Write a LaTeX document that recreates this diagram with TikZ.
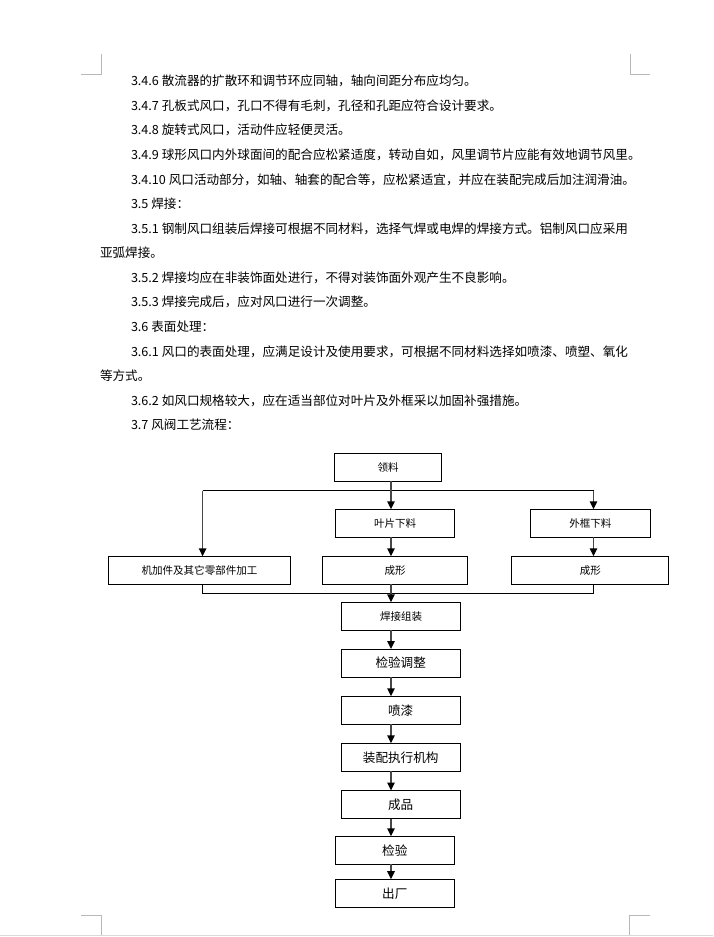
\documentclass[tikz,border=0pt]{standalone}
\usepackage{fontspec}
\setmainfont{Noto Sans CJK SC}
\usetikzlibrary{arrows.meta}
\begin{document}
\begin{tikzpicture}[x=0.75pt,y=-0.75pt,
  txt/.style={anchor=west, inner sep=0, outer sep=0, font=\fontsize{9.45pt}{11pt}\selectfont, text height=8.3pt, text depth=1.1pt},
  box/.style={draw=black, line width=0.75pt, inner sep=0, outer sep=0, minimum height=21pt, fill=white},
  sm/.style={font=\fontsize{7.9pt}{9pt}\selectfont},
  lg/.style={font=\fontsize{9.45pt}{11pt}\selectfont},
  conn/.style={draw=black!72, line width=1.1pt},
  arr/.style={conn, -{Triangle[width=5.6pt,length=6pt,color=black]}},
  plainline/.style={draw=black, line width=0.75pt},
  cornermark/.style={draw=black!28, line width=0.75pt}]
\useasboundingbox[fill=white] (0,0) rectangle (713,937);
% page corner marks and page edge
\draw[cornermark] (81,75) -- (101,75) -- (101,54);
\draw[cornermark] (650,75) -- (630,75) -- (630,54);
\draw[cornermark] (81,915) -- (101,915) -- (101,935);
\draw[cornermark] (650,915) -- (629,915) -- (629,935);
\draw[draw=black!15, line width=1pt] (0,935.5) -- (713,935.5);
% body text
\node[txt] (t1) at (131,81.0) {3.4.6 散流器的扩散环和调节环应同轴，轴向间距分布应均匀。};
\node[txt] (t2) at (131,105.6) {3.4.7 孔板式风口，孔口不得有毛刺，孔径和孔距应符合设计要求。};
\node[txt] (t3) at (131,130.1) {3.4.8 旋转式风口，活动件应轻便灵活。};
\node[txt] (t4) at (131,154.7) {3.4.9 球形风口内外球面间的配合应松紧适度，转动自如，风里调节片应能有效地调节风里。};
\node[txt] (t5) at (131,179.3) {3.4.10 风口活动部分，如轴、轴套的配合等，应松紧适宜，并应在装配完成后加注润滑油。};
\node[txt] (t6) at (131,203.9) {3.5 焊接：};
\node[txt] (t7) at (131,228.4) {3.5.1 钢制风口组装后焊接可根据不同材料，选择气焊或电焊的焊接方式。铝制风口应采用};
\node[txt] (t8) at (100,253.0) {亚弧焊接。};
\node[txt] (t9) at (131,277.6) {3.5.2 焊接均应在非装饰面处进行，不得对装饰面外观产生不良影响。};
\node[txt] (t10) at (131,302.1) {3.5.3 焊接完成后，应对风口进行一次调整。};
\node[txt] (t11) at (131,326.7) {3.6 表面处理：};
\node[txt] (t12) at (131,351.3) {3.6.1 风口的表面处理，应满足设计及使用要求，可根据不同材料选择如喷漆、喷塑、氧化};
\node[txt] (t13) at (100,375.8) {等方式。};
\node[txt] (t14) at (131,400.4) {3.6.2 如风口规格较大，应在适当部位对叶片及外框采以加固补强措施。};
\node[txt] (t15) at (131,425.0) {3.7 风阀工艺流程：};
% flowchart boxes
\node[box,sm,minimum width=80.6pt]  (ll)  at (388.2,467.3) {领料};
\node[box,sm,minimum width=89.4pt]  (yp)  at (395.2,523.3) {叶片下料};
\node[box,sm,minimum width=89.5pt]  (wk)  at (590.4,523.3) {外框下料};
\node[box,sm,minimum width=136.8pt] (jj)  at (199.5,570.3) {机加件及其它零部件加工};
\node[box,sm,minimum width=108.9pt] (cx1) at (395.2,570.3) {成形};
\node[box,sm,minimum width=117.75pt](cx2) at (590.4,570.3) {成形};
\node[box,sm,minimum width=89.25pt] (hj)  at (401.2,616.3) {焊接组装};
\node[box,lg,minimum width=89pt]    (jt)  at (400.7,663.0) {检验调整};
\node[box,lg,minimum width=89pt]    (pq)  at (400.7,710.3) {喷漆};
\node[box,lg,minimum width=89pt]    (zp)  at (400.7,757.3) {装配执行机构};
\node[box,lg,minimum width=89pt]    (cp)  at (400.7,804.5) {成品};
\node[box,lg,minimum width=89.25pt] (jy)  at (394.8,850.3) {检验};
\node[box,lg,minimum width=89.25pt] (cc)  at (394.8,893.2) {出厂};
% connector guide coordinates
\coordinate (mx) at (391,0);
\coordinate (lx) at (202.6,0);
\coordinate (rx) at (593.5,0);
\coordinate (tj) at (391,490.7);
\coordinate (bj) at (391,593.3);
% connectors
\draw[plainline] (lx |- tj) -- (rx |- tj);
\draw[arr] (mx |- ll.south) -- (mx |- yp.north);
\draw[arr] (lx |- tj) -- (lx |- jj.north);
\draw[arr] (rx |- tj) -- (rx |- wk.north);
\draw[arr] (mx |- yp.south) -- (mx |- cx1.north);
\draw[arr] (rx |- wk.south) -- (rx |- cx2.north);
\draw[plainline] (lx |- jj.south) -- (lx |- bj) -- (rx |- bj) -- (rx |- cx2.south);
\draw[arr] (mx |- cx1.south) -- (mx |- hj.north);
\draw[arr] (mx |- hj.south) -- (mx |- jt.north);
\draw[arr] (mx |- jt.south) -- (mx |- pq.north);
\draw[arr] (mx |- pq.south) -- (mx |- zp.north);
\draw[arr] (mx |- zp.south) -- (mx |- cp.north);
\draw[arr] (mx |- cp.south) -- (mx |- jy.north);
\draw[arr] (mx |- jy.south) -- (mx |- cc.north);
\end{tikzpicture}
\end{document}
